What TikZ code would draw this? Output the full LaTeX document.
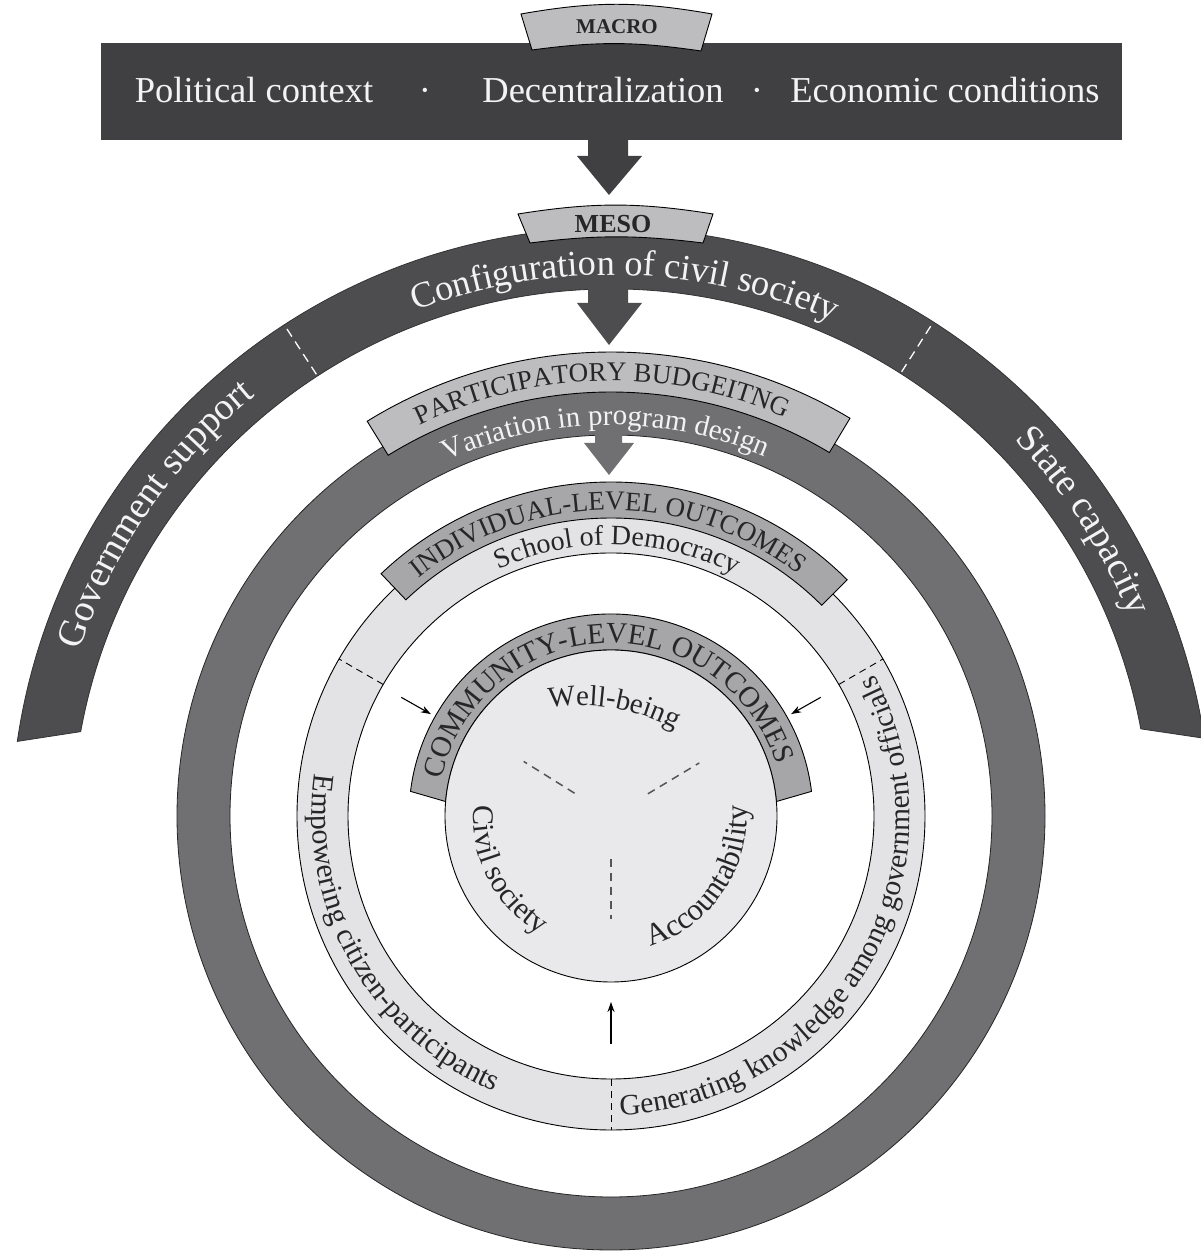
\documentclass[tikz,border=0pt]{standalone}
\usepackage{fontspec}
\setmainfont{Liberation Serif}
\usetikzlibrary{decorations.text,arrows.meta,calc}
\definecolor{macrogray}{HTML}{404042}
\definecolor{mesogray}{HTML}{4D4D4F}
\definecolor{pbgray}{HTML}{707072}
\definecolor{tabgray}{HTML}{BDBDBF}
\definecolor{indtab}{HTML}{A7A7A9}
\definecolor{combandgray}{HTML}{A6A6A8}
\definecolor{ringlight}{HTML}{E3E3E5}
\definecolor{comfill}{HTML}{E9E9EB}
\definecolor{inkdark}{HTML}{262626}
\definecolor{inklight}{HTML}{F3F3F3}
\definecolor{dashgray}{HTML}{555555}
\tikzset{
  outline/.style={draw=black, line width=0.9},
  tabshape/.style={fill=tabgray, outline},
  arctext/.style={decoration={text along path, text align=center, text={#1}}, decorate},
  smallarrow/.style={-{Stealth[length=10,width=7]}, line width=1.1, black},
  ringdash/.style={black, line width=0.9, dash pattern=on 7 off 5},
  innerdash/.style={dashgray, line width=1.5, dash pattern=on 8 off 6},
  mesodash/.style={white, line width=1.3, dash pattern=on 9 off 6}
}
\begin{document}
\begin{tikzpicture}[x=1pt,y=1pt]
\useasboundingbox (0,0) rectangle (1200,1253);
\fill[white] (0,0) rectangle (1200,1253);
\coordinate (C) at (611,437);
\coordinate (M) at (611,425);
\coordinate (W0) at (581.5,351.5);

% ---------- MESO arc ----------
\path[fill=mesogray, draw=black!80, line width=0.8]
  ([shift={(171.7:600)}]M) arc[start angle=171.7, end angle=8.6, radius=600]
  -- ([shift={(10.6:539)}]M) arc[start angle=10.6, end angle=169.7, radius=539] -- cycle;
\foreach \a in {123,57.5}
  \draw[mesodash] ([shift={(\a:541)}]M) -- ([shift={(\a:598)}]M);

% arrow MESO -> PB
\fill[mesogray] (588,970) -- (588,950) -- (577,950) -- (609,908) -- (642,950) -- (628,950) -- (628,970) -- cycle;

\path[arctext={|\fontsize{36.3}{36.3}\selectfont\color{inklight}|Configuration of civil society}]
  ([shift={(130:553)}]M) arc[start angle=130, end angle=47, radius=553];
\path[arctext={|\fontsize{38}{38}\selectfont\color{inklight}|Government support}]
  ([shift={(178.5:560)}]M) arc[start angle=178.5, end angle=112.5, radius=560];
\path[arctext={|\fontsize{38}{38}\selectfont\color{inklight}|State capacity}]
  ([shift={(66:560)}]M) arc[start angle=66, end angle=0, radius=560];

% MESO tab
\path[tabshape] (518,1039) to[bend left=9] (713,1039) -- (703,1010) to[bend right=7] (530,1010) -- cycle;
\node[text=inkdark, font=\bfseries\fontsize{26}{26}\selectfont] (meso) at (613,1029) {MESO};

% ---------- MACRO ----------
\fill[macrogray] (101,1113) rectangle (1122,1210);
\fill[macrogray] (588,1115) -- (588,1097) -- (577,1097) -- (609,1058) -- (642,1097) -- (628,1097) -- (628,1115) -- cycle;
\path[tabshape] (521,1239) to[bend left=10] (712,1239) -- (701,1202) to[bend right=8] (532,1203) -- cycle;
\node[text=inkdark, font=\bfseries\fontsize{21}{21}\selectfont] (macro) at (617,1226) {MACRO};
\node[anchor=base, text=inklight, font=\fontsize{36.5}{36.5}\selectfont] (pol) at (254,1150) {Political context};
\node[anchor=base, text=inklight, font=\fontsize{36.5}{36.5}\selectfont] (dot1) at (425,1150) {\textperiodcentered};
\node[anchor=base, text=inklight, font=\fontsize{36.5}{36.5}\selectfont] (dec) at (603,1150) {Decentralization};
\node[anchor=base, text=inklight, font=\fontsize{36.5}{36.5}\selectfont] (dot2) at (757,1150) {\textperiodcentered};
\node[anchor=base, text=inklight, font=\fontsize{36.5}{36.5}\selectfont] (eco) at (945,1150) {Economic conditions};

% ---------- PB ring ----------
\path[fill=pbgray, draw=black!85, line width=0.8, even odd rule] (C) circle[radius=434] (C) circle[radius=381];
\fill[pbgray] (595,822) -- (595,810) -- (584,810) -- (609,778) -- (634,810) -- (622,810) -- (622,822) -- cycle;
\path[arctext={|\fontsize{29}{29}\selectfont\color{inklight}|Variation in program design}]
  ([shift={(126:391)}]C) arc[start angle=126, end angle=55.6, radius=391];
\path[tabshape] ([shift={(121.7:464)}]C) arc[start angle=121.7, end angle=59, radius=464]
  -- ([shift={(59:424)}]C) arc[start angle=59, end angle=121.7, radius=424] -- cycle;
\path[arctext={|\fontsize{27}{27}\selectfont\color{inkdark}|PARTICIPATORY BUDGEITNG}]
  ([shift={(126.4:435)}]C) arc[start angle=126.4, end angle=56, radius=435];

% ---------- Individual ring ----------
\path[fill=ringlight, even odd rule] (C) circle[radius=314] (C) circle[radius=263];
\draw[outline] (C) circle[radius=314] (C) circle[radius=263];
\foreach \a in {150,30,270}
  \draw[ringdash] ([shift={(\a:263)}]C) -- ([shift={(\a:314)}]C);
\path[fill=indtab, outline] ([shift={(133.5:334)}]C) arc[start angle=133.5, end angle=45, radius=334]
  -- ([shift={(45:298)}]C) arc[start angle=45, end angle=133.5, radius=298] -- cycle;
\path[arctext={|\fontsize{27}{27}\selectfont\color{inkdark}|INDIVIDUAL-LEVEL OUTCOMES}]
  ([shift={(138:306)}]C) arc[start angle=138, end angle=43.2, radius=306];
\path[arctext={|\fontsize{28}{28}\selectfont\color{inkdark}|School of Democracy}]
  ([shift={(133:271)}]C) arc[start angle=133, end angle=44.2, radius=271];
\path[arctext={|\fontsize{30}{30}\selectfont\color{inkdark}|Empowering citizen-participants}]
  ([shift={(150:299)}]C) arc[start angle=150, end angle=269, radius=299];
\path[arctext={|\fontsize{29.5}{29.5}\selectfont\color{inkdark}|Generating knowledge among government officials}]
  ([shift={(255:299)}]C) arc[start angle=255, end angle=405, radius=299];

% ---------- Community ----------
\path[fill=combandgray, outline] ([shift={(173:202)}]C) arc[start angle=173, end angle=7, radius=202]
  -- ([shift={(5:166)}]C) arc[start angle=5, end angle=175, radius=166] -- cycle;
\path[fill=comfill, outline] (C) circle[radius=166];
\path[arctext={|\fontsize{29.3}{29.3}\selectfont\color{inkdark}|COMMUNITY-LEVEL OUTCOMES}]
  ([shift={(182.4:173)}]C) arc[start angle=182.4, end angle=2.4, radius=173];
\foreach \a in {148,31,270}
  \draw[innerdash] ([shift={(\a:43)}]C) -- ([shift={(\a:103)}]C);
\path[arctext={|\fontsize{29}{29}\selectfont\color{inkdark}|Well-being}]
  ([shift={(115:196)}]W0) arc[start angle=115, end angle=46, radius=196];
\path[arctext={|\fontsize{30}{30}\selectfont\color{inkdark}|Civil society}]
  ([shift={(160:138)}]C) arc[start angle=160, end angle=255, radius=138];
\path[arctext={|\fontsize{31}{31}\selectfont\color{inkdark}|Accountability}]
  ([shift={(275:136)}]C) arc[start angle=275, end angle=376.4, radius=136];

% small arrows
\coordinate (sa1s) at ($(C)+(150.5:241)$);
\coordinate (sa1e) at ($(C)+(150.5:207)$);
\coordinate (sa2s) at ($(C)+(29.5:241)$);
\coordinate (sa2e) at ($(C)+(29.5:207)$);
\coordinate (sa3s) at ($(C)+(270:228)$);
\coordinate (sa3e) at ($(C)+(270:186)$);
\draw[smallarrow] (sa1s) -- (sa1e);
\draw[smallarrow] (sa2s) -- (sa2e);
\draw[smallarrow] (sa3s) -- (sa3e);
\end{tikzpicture}
\end{document}
